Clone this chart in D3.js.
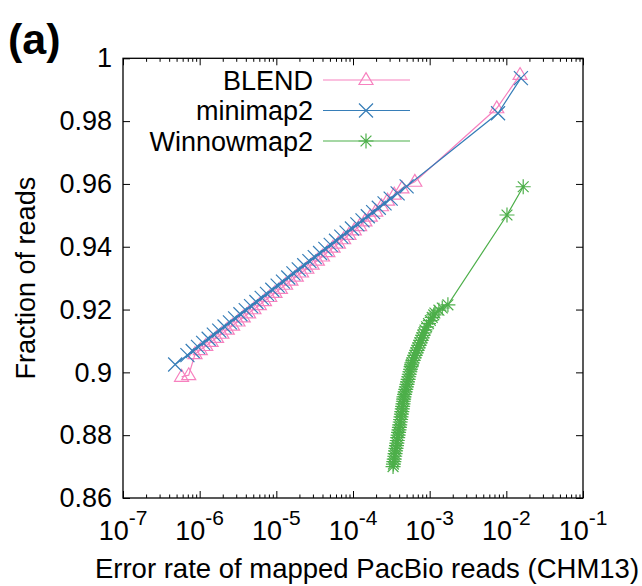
<!DOCTYPE html>
<html>
<head>
<meta charset="utf-8">
<script src="https://cdn.jsdelivr.net/npm/d3@7/dist/d3.min.js"></script>
<style>
  html, body { margin: 0; padding: 0; background: #fff; }
  text { font-family: "Liberation Sans", Arial, Helvetica, sans-serif; }
</style>
</head>
<body>
<script>
// Error rate (x) vs fraction of reads (y) for each mapper
const blendX = [5.8e-7, 7.2e-7, 8.7e-7, 1.02e-6, 1.2e-6, 1.41e-6, 1.66e-6, 1.95e-6, 2.29e-6, 2.69e-6,
  3.16e-6, 3.7e-6, 4.35e-6, 5.1e-6, 6.0e-6, 7.0e-6, 8.2e-6, 9.6e-6, 1.13e-5, 1.32e-5,
  1.55e-5, 1.82e-5, 2.13e-5, 2.5e-5, 2.93e-5, 3.43e-5, 4.0e-5, 4.7e-5, 5.5e-5, 6.45e-5,
  7.55e-5, 8.85e-5, 1.04e-4, 1.22e-4, 1.43e-4, 1.68e-4, 1.98e-4, 2.35e-4, 2.82e-4, 3.45e-4,
  4.35e-4, 6.4e-4, 7.5e-3, 1.51e-2];
const blendY = [0.8986, 0.8991, 0.9058, 0.9071, 0.9084, 0.9097, 0.9110, 0.9123, 0.9136, 0.9149,
  0.9162, 0.9175, 0.9188, 0.9201, 0.9214, 0.9227, 0.9240, 0.9253, 0.9266, 0.9279,
  0.9292, 0.9305, 0.9318, 0.9330, 0.9343, 0.9356, 0.9369, 0.9383, 0.9397, 0.9410,
  0.9424, 0.9438, 0.9452, 0.9466, 0.9481, 0.9496, 0.9512, 0.9529, 0.9547, 0.9566,
  0.9586, 0.9607, 0.9841, 0.9947];

const minimapX = [4.79e-7, 6.92e-7, 8.11e-7, 9.51e-7, 1.11e-6, 1.31e-6, 1.53e-6, 1.80e-6, 2.11e-6, 2.48e-6,
  2.90e-6, 3.40e-6, 3.99e-6, 4.68e-6, 5.50e-6, 6.44e-6, 7.55e-6, 8.85e-6, 1.04e-5, 1.22e-5,
  1.43e-5, 1.67e-5, 1.96e-5, 2.31e-5, 2.70e-5, 3.17e-5, 3.72e-5, 4.36e-5, 5.12e-5, 6.00e-5,
  7.03e-5, 8.25e-5, 9.68e-5, 1.14e-4, 1.33e-4, 1.56e-4, 1.83e-4, 2.17e-4, 2.58e-4, 3.10e-4,
  3.82e-4, 5.00e-4, 7.8e-3, 1.55e-2];
const minimapY = [0.9025, 0.9055, 0.9068, 0.9081, 0.9094, 0.9107, 0.9120, 0.9133, 0.9146, 0.9159,
  0.9172, 0.9185, 0.9198, 0.9211, 0.9224, 0.9237, 0.9250, 0.9263, 0.9276, 0.9289,
  0.9302, 0.9315, 0.9328, 0.9341, 0.9354, 0.9367, 0.9380, 0.9393, 0.9406, 0.9419,
  0.9432, 0.9445, 0.9458, 0.9471, 0.9484, 0.9497, 0.9510, 0.9524, 0.9538, 0.9553,
  0.9570, 0.9592, 0.9825, 0.9937];

const winnowX = [3.33e-4, 3.37e-4, 3.41e-4, 3.45e-4, 3.50e-4, 3.54e-4, 3.59e-4, 3.64e-4, 3.69e-4, 3.73e-4,
  3.78e-4, 3.83e-4, 3.88e-4, 3.93e-4, 3.98e-4, 4.03e-4, 4.07e-4, 4.13e-4, 4.18e-4, 4.23e-4,
  4.28e-4, 4.33e-4, 4.39e-4, 4.44e-4, 4.49e-4, 4.54e-4, 4.58e-4, 4.62e-4, 4.71e-4, 4.79e-4,
  4.88e-4, 4.97e-4, 5.06e-4, 5.14e-4, 5.24e-4, 5.33e-4, 5.42e-4, 5.52e-4, 5.62e-4, 5.73e-4,
  5.79e-4, 5.87e-4, 6.05e-4, 6.24e-4, 6.43e-4, 6.62e-4, 6.82e-4, 7.03e-4, 7.24e-4, 7.46e-4,
  7.69e-4, 7.93e-4, 8.17e-4, 8.41e-4, 8.69e-4, 9.12e-4, 9.66e-4, 1.02e-3, 1.08e-3, 1.13e-3,
  1.17e-3, 1.32e-3, 1.46e-3, 1.73e-3, 1.02e-2, 1.66e-2];
const winnowY = [0.8700, 0.8708, 0.8716, 0.8724, 0.8733, 0.8741, 0.8750, 0.8758, 0.8767, 0.8775,
  0.8783, 0.8792, 0.8800, 0.8809, 0.8817, 0.8825, 0.8833, 0.8842, 0.8850, 0.8858,
  0.8867, 0.8875, 0.8884, 0.8892, 0.8900, 0.8908, 0.8915, 0.8922, 0.8930, 0.8938,
  0.8946, 0.8954, 0.8962, 0.8970, 0.8978, 0.8986, 0.8994, 0.9002, 0.9010, 0.9018,
  0.9024, 0.9030, 0.9038, 0.9046, 0.9054, 0.9062, 0.9070, 0.9078, 0.9086, 0.9094,
  0.9102, 0.9110, 0.9118, 0.9126, 0.9135, 0.9145, 0.9155, 0.9165, 0.9175, 0.9183,
  0.9189, 0.9198, 0.9205, 0.9215, 0.9501, 0.9591];

const seriesNames = ["BLEND", "minimap2", "Winnowmap2"];
const seriesColors = ["#f781bf", "#377eb8", "#4daf4a"];
const seriesMarkers = ["triangle", "cross", "star"];

const xMajor = [1e-7, 1e-6, 1e-5, 1e-4, 1e-3, 1e-2, 1e-1];
const xExponents = ["-7", "-6", "-5", "-4", "-3", "-2", "-1"];
const yTicks = [0.86, 0.88, 0.90, 0.92, 0.94, 0.96, 0.98, 1.0];
const yLabels = ["0.86", "0.88", "0.9", "0.92", "0.94", "0.96", "0.98", "1"];

const W = 642, H = 586;
const plot = { left: 123, right: 583, top: 58.3, bottom: 498 };
const fontSize = 27;

const svg = d3.select("body").append("svg").attr("width", W).attr("height", H);

const x = d3.scaleLog().domain([1e-7, 1e-1]).range([plot.left, plot.right]);
const y = d3.scaleLinear().domain([0.86, 1.0]).range([plot.bottom, plot.top]);

// minor ticks: 2..9 within each decade
const xMinor = [];
for (let i = 0; i < xMajor.length - 1; i++) {
  for (let m = 2; m <= 9; m++) xMinor.push(xMajor[i] * m);
}

function styleAxis(g) {
  g.select(".domain").remove();
  g.selectAll(".tick line").attr("stroke", "#000").attr("stroke-width", 1);
}

// bottom and top axes (ticks pointing inward)
svg.append("g").attr("transform", `translate(0,${plot.bottom})`)
  .call(d3.axisBottom(x).tickValues(xMajor).tickSize(-7).tickFormat(""))
  .call(styleAxis);
svg.append("g").attr("transform", `translate(0,${plot.bottom})`)
  .call(d3.axisBottom(x).tickValues(xMinor).tickSize(-3.5).tickFormat(""))
  .call(styleAxis);
svg.append("g").attr("transform", `translate(0,${plot.top})`)
  .call(d3.axisTop(x).tickValues(xMajor).tickSize(-7).tickFormat(""))
  .call(styleAxis);
svg.append("g").attr("transform", `translate(0,${plot.top})`)
  .call(d3.axisTop(x).tickValues(xMinor).tickSize(-3.5).tickFormat(""))
  .call(styleAxis);

// left axis with labels, right mirror ticks
svg.append("g").attr("transform", `translate(${plot.left},0)`)
  .call(d3.axisLeft(y).tickValues(yTicks).tickSize(-7).tickPadding(11)
    .tickFormat((d, i) => yLabels[i]))
  .call(styleAxis)
  .call(g => g.selectAll(".tick text")
    .attr("font-size", fontSize).attr("fill", "#000")
    .attr("font-family", "'Liberation Sans', Arial, Helvetica, sans-serif"));
svg.append("g").attr("transform", `translate(${plot.right},0)`)
  .call(d3.axisRight(y).tickValues(yTicks).tickSize(-7).tickFormat(""))
  .call(styleAxis);

// x tick labels as powers of ten
const xl = svg.append("g");
xMajor.forEach((v, i) => {
  const t = xl.append("text")
    .attr("x", x(v)).attr("y", 540)
    .attr("text-anchor", "middle")
    .attr("font-size", fontSize).attr("fill", "#000");
  t.append("tspan").text("10");
  t.append("tspan").attr("dy", -15).attr("font-size", 21).text(xExponents[i]);
});

// plot border
svg.append("rect")
  .attr("x", plot.left).attr("y", plot.top)
  .attr("width", plot.right - plot.left).attr("height", plot.bottom - plot.top)
  .attr("fill", "none").attr("stroke", "#000").attr("stroke-width", 1.3);

// axis titles
svg.append("text")
  .attr("x", 367).attr("y", 578)
  .attr("text-anchor", "middle").attr("font-size", 27.5)
  .text("Error rate of mapped PacBio reads (CHM13)");
svg.append("text")
  .attr("transform", `translate(35,${(plot.top + plot.bottom) / 2}) rotate(-90)`)
  .attr("text-anchor", "middle").attr("font-size", fontSize)
  .text("Fraction of reads");

// panel label
svg.append("text")
  .attr("x", 8).attr("y", 54)
  .attr("font-size", 43).attr("font-weight", "bold")
  .text("(a)");

// marker shapes
function markerPath(kind, r) {
  if (kind === "triangle") {
    const h = r * 1.7;
    return `M0,${-h * 0.62}L${r},${h * 0.38}L${-r},${h * 0.38}Z`;
  }
  if (kind === "cross") {
    return `M${-r},${-r}L${r},${r}M${-r},${r}L${r},${-r}`;
  }
  // star: plus combined with cross
  const d = r * 0.72;
  return `M${-r},0L${r},0M0,${-r}L0,${r}M${-d},${-d}L${d},${d}M${-d},${d}L${d},${-d}`;
}

const series = [
  { xs: blendX, ys: blendY },
  { xs: minimapX, ys: minimapY },
  { xs: winnowX, ys: winnowY }
];
const markerR = [7, 7, 7.5];

const line = d3.line().x(d => x(d[0])).y(d => y(d[1]));

svg.append("defs").append("clipPath").attr("id", "plotclip")
  .append("rect").attr("x", plot.left).attr("y", plot.top)
  .attr("width", plot.right - plot.left).attr("height", plot.bottom - plot.top);

const dataLayer = svg.append("g").attr("clip-path", "url(#plotclip)");

series.forEach((s, i) => {
  const pts = s.xs.map((v, k) => [v, s.ys[k]]);
  const g = dataLayer.append("g");
  g.append("path").datum(pts)
    .attr("d", line)
    .attr("fill", "none").attr("stroke", seriesColors[i]).attr("stroke-width", 1.2);
  g.selectAll("path.pt").data(pts).enter().append("path")
    .attr("class", "pt")
    .attr("transform", d => `translate(${x(d[0])},${y(d[1])})`)
    .attr("d", markerPath(seriesMarkers[i], markerR[i]))
    .attr("fill", "none").attr("stroke", seriesColors[i]).attr("stroke-width", 1.2);
});

// legend
const legend = svg.append("g");
seriesNames.forEach((name, i) => {
  const cy = 80 + i * 30.5;
  legend.append("text")
    .attr("x", 313).attr("y", cy + 9.5)
    .attr("text-anchor", "end").attr("font-size", fontSize)
    .text(name);
  legend.append("line")
    .attr("x1", 323).attr("x2", 410).attr("y1", cy).attr("y2", cy)
    .attr("stroke", seriesColors[i]).attr("stroke-width", 1.2);
  legend.append("path")
    .attr("transform", `translate(366,${cy})`)
    .attr("d", markerPath(seriesMarkers[i], markerR[i]))
    .attr("fill", "none").attr("stroke", seriesColors[i]).attr("stroke-width", 1.2);
});
</script>
</body>
</html>
